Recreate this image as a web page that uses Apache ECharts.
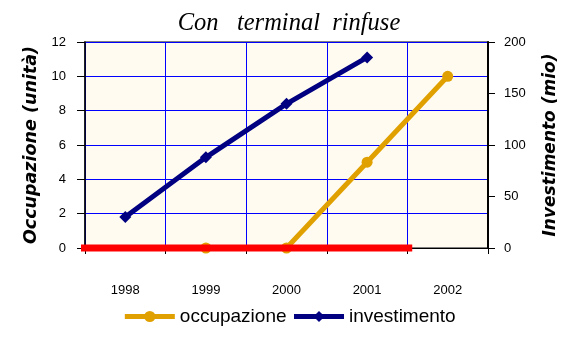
<!DOCTYPE html>
<html>
<head>
<meta charset="utf-8">
<script src="https://cdn.jsdelivr.net/npm/echarts@6/dist/echarts.min.js"></script>
<style>
html,body{margin:0;padding:0;background:#fff;}
#c{width:578px;height:339px;}
</style>
</head>
<body>
<div id="c"></div>
<script>
const titleText = 'Con   terminal  rinfuse';
const categories = ['1998', '1999', '2000', '2001', '2002'];
const occupazione = [null, 0, 0, 5, 10];
const investimento = [30, 88, 140, 185, null];
const leftTicks = { min: 0, max: 12, interval: 2 };
const rightTicks = { min: 0, max: 200, interval: 50 };
// red baseline at value 0, extent in category units (index)
const redLineExtent = [-0.56, 3.56];
const redLineValue = 0;

const chart = echarts.init(document.getElementById('c'), null, { renderer: 'canvas' });
const sans = 'Liberation Sans, Arial, sans-serif';
const nameFont = 'DejaVu Sans, sans-serif';
chart.setOption({
  animation: false,
  backgroundColor: '#ffffff',
  title: {
    text: titleText,
    left: 'center',
    top: 6,
    textStyle: { fontFamily: 'Liberation Serif, Times New Roman, serif', fontStyle: 'italic', fontWeight: 'normal', fontSize: 24.5, color: '#000' }
  },
  legend: {
    data: ['occupazione', 'investimento'],
    bottom: 8,
    left: 'center',
    itemWidth: 50,
    itemHeight: 14,
    itemGap: 5,
    lineStyle: { width: 5 },
    textStyle: { fontFamily: sans, fontSize: 19, color: '#000' }
  },
  grid: {
    left: 85, right: 90, top: 42, bottom: 91,
    show: true,
    backgroundColor: '#FFFBF0',
    borderColor: '#808080',
    borderWidth: 2
  },
  xAxis: [{
    type: 'category',
    data: categories,
    boundaryGap: true,
    axisLine: { onZero: false, lineStyle: { color: '#000', width: 1 } },
    axisTick: { show: true, length: 6, lineStyle: { color: '#000' } },
    axisLabel: { margin: 36, fontFamily: sans, fontSize: 13, color: '#000' },
    splitLine: { show: true, lineStyle: { color: '#0000FF', width: 1 } }
  }, {
    type: 'value',
    min: -0.5,
    max: categories.length - 0.5,
    show: false,
    axisLine: { onZero: false },
    splitLine: { show: false }
  }],
  yAxis: [{
    type: 'value',
    min: leftTicks.min, max: leftTicks.max, interval: leftTicks.interval,
    name: 'Occupazione (unità)',
    nameLocation: 'middle',
    nameRotate: 90,
    nameGap: 43,
    nameTextStyle: { fontFamily: nameFont, fontStyle: 'italic', fontWeight: 'bold', fontSize: 17.5, color: '#000' },
    axisLine: { show: true, onZero: false, lineStyle: { color: '#000', width: 1.5 } },
    axisTick: { show: true, length: 8, lineStyle: { color: '#000' } },
    axisLabel: { margin: 19, fontFamily: sans, fontSize: 13, color: '#000' },
    splitLine: { show: true, lineStyle: { color: '#0000FF', width: 1 } }
  }, {
    type: 'value',
    position: 'right',
    min: rightTicks.min, max: rightTicks.max, interval: rightTicks.interval,
    name: 'Investimento (mio)',
    nameLocation: 'middle',
    nameRotate: 90,
    nameGap: 54,
    nameTextStyle: { fontFamily: nameFont, fontStyle: 'italic', fontWeight: 'bold', fontSize: 17, color: '#000' },
    axisLine: { show: true, onZero: false, lineStyle: { color: '#000', width: 2 } },
    axisTick: { show: true, length: 7, lineStyle: { color: '#000' } },
    axisLabel: { margin: 16, fontFamily: sans, fontSize: 13, color: '#000' },
    splitLine: { show: false }
  }],
  series: [{
    name: 'occupazione',
    type: 'line',
    yAxisIndex: 0,
    data: occupazione,
    symbol: 'circle',
    symbolSize: 11,
    lineStyle: { color: '#E0A000', width: 5 },
    itemStyle: { color: '#E0A000' },
    z: 3
  }, {
    name: 'investimento',
    type: 'line',
    yAxisIndex: 1,
    data: investimento,
    symbol: 'diamond',
    symbolSize: 12,
    lineStyle: { color: '#000080', width: 5 },
    itemStyle: { color: '#000080' },
    z: 3
  }, {
    name: 'baseline',
    type: 'line',
    xAxisIndex: 1,
    yAxisIndex: 0,
    data: redLineExtent.map(x => [x, redLineValue]),
    symbol: 'none',
    clip: false,
    lineStyle: { color: '#FF0000', width: 7 },
    z: 5,
    silent: true
  }]
});
</script>
</body>
</html>
